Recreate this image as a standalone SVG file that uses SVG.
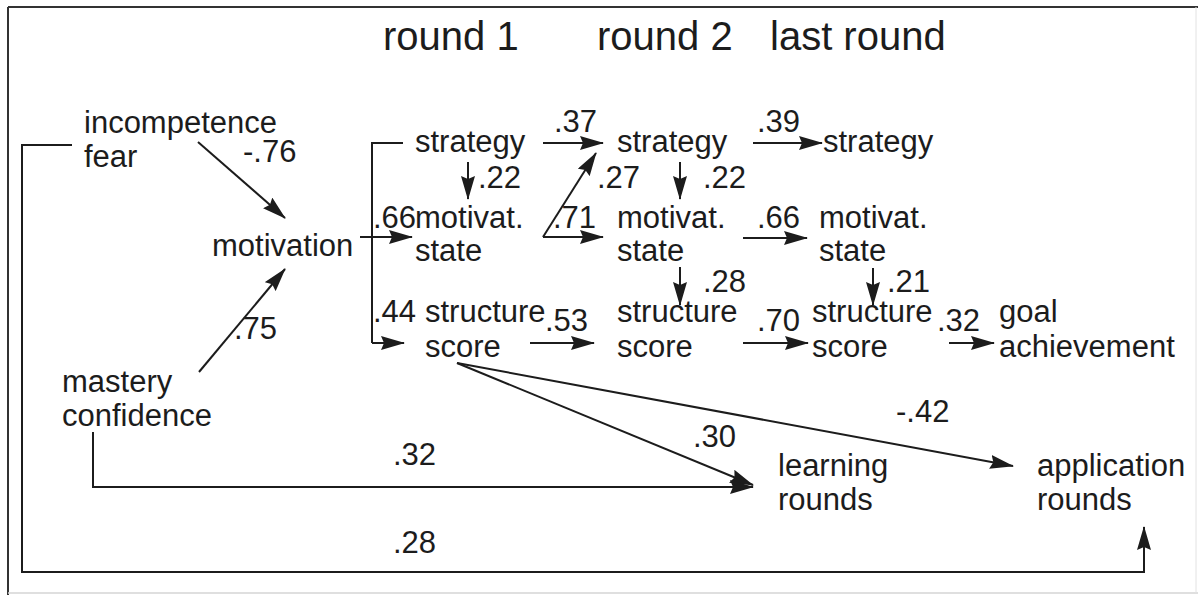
<svg xmlns="http://www.w3.org/2000/svg" width="1198" height="595" viewBox="0 0 1198 595">
  <style>
    .t { font-family: "Liberation Sans", Arial, sans-serif; font-size: 31px; fill: #1c1c1c; }
    .h { font-family: "Liberation Sans", Arial, sans-serif; font-size: 40px; fill: #1c1c1c; }
    .c { fill: none; stroke: #1c1c1c; stroke-width: 2; }
    .a { fill: none; stroke: #1c1c1c; stroke-width: 2; marker-end: url(#head); }
  </style>
  <defs>
    <marker id="head" viewBox="0 0 24 14" refX="23" refY="7" markerWidth="24" markerHeight="14" markerUnits="userSpaceOnUse" orient="auto">
      <path d="M0,0 L24,7 L0,14 L3,7 z" fill="#1c1c1c"/>
    </marker>
  </defs>

  <rect width="1198" height="595" fill="#ffffff"/>

  <!-- frame -->
  <g id="frame">
    <line x1="8" y1="7" x2="1198" y2="7" stroke="#333" stroke-width="2"/>
    <line x1="8" y1="7" x2="8" y2="595" stroke="#333" stroke-width="2"/>
    <line x1="8" y1="593" x2="1198" y2="593" stroke="#d4d4d4" stroke-width="1.5"/>
    <line x1="1196" y1="7" x2="1196" y2="593" stroke="#e2e2e2" stroke-width="1"/>
  </g>

  <!-- column headings -->
  <g id="headings">
    <text class="h" x="383" y="50">round 1</text>
    <text class="h" x="597" y="50">round 2</text>
    <text class="h" x="770" y="50">last round</text>
  </g>

  <!-- connectors -->
  <g id="connectors">
    <path class="a" d="M198,142 L285,218"/>
    <path class="a" d="M199,372 L285,269"/>
    <path class="c" d="M403,143 L372,143 L372,343"/>
    <path class="a" d="M372,343 L404,343"/>
    <path class="a" d="M360,237 L412,237"/>
    <path class="a" d="M468,162 L468,199"/>
    <path class="a" d="M543,143 L603,143"/>
    <path class="a" d="M543,237 L596,153"/>
    <path class="a" d="M543,237 L603,237"/>
    <path class="a" d="M530,343 L594,343"/>
    <path class="a" d="M680,162 L680,199"/>
    <path class="a" d="M680,267 L680,305"/>
    <path class="a" d="M753,143 L822,143"/>
    <path class="a" d="M743,238 L807,238"/>
    <path class="a" d="M743,343 L808,343"/>
    <path class="a" d="M873,268 L873,305"/>
    <path class="a" d="M949,343 L994,343"/>
    <path class="a" d="M457,363 L753,485"/>
    <path class="a" d="M457,363 L1013,466"/>
    <path class="a" d="M93,432 L93,487 L753,487"/>
    <path class="a" d="M72,145 L22,145 L22,572 L1144,572 L1144,527"/>
  </g>

  <!-- path coefficients -->
  <g id="weights">
    <text class="t" x="243" y="162">-.76</text>
    <text class="t" x="234" y="339">.75</text>
    <text class="t" x="373" y="228">.66</text>
    <text class="t" x="373" y="322">.44</text>
    <text class="t" x="478" y="188">.22</text>
    <text class="t" x="554" y="132">.37</text>
    <text class="t" x="553" y="228">.71</text>
    <text class="t" x="597" y="188">.27</text>
    <text class="t" x="545" y="331">.53</text>
    <text class="t" x="703" y="188">.22</text>
    <text class="t" x="703" y="292">.28</text>
    <text class="t" x="757" y="132">.39</text>
    <text class="t" x="757" y="228">.66</text>
    <text class="t" x="757" y="331">.70</text>
    <text class="t" x="887" y="292">.21</text>
    <text class="t" x="937" y="331">.32</text>
    <text class="t" x="693" y="447">.30</text>
    <text class="t" x="896" y="422">-.42</text>
    <text class="t" x="393" y="465">.32</text>
    <text class="t" x="393" y="553">.28</text>
  </g>

  <!-- nodes -->
  <g id="incompetence-fear">
    <text class="t" x="84" y="133">incompetence</text>
    <text class="t" x="84" y="167">fear</text>
  </g>
  <g id="mastery-confidence">
    <text class="t" x="62" y="392">mastery</text>
    <text class="t" x="62" y="426">confidence</text>
  </g>
  <g id="motivation">
    <text class="t" x="212" y="256">motivation</text>
  </g>
  <g id="strategy-1">
    <text class="t" x="415" y="152">strategy</text>
  </g>
  <g id="motivat-state-1">
    <text class="t" x="415" y="228">motivat.</text>
    <text class="t" x="415" y="261">state</text>
  </g>
  <g id="structure-score-1">
    <text class="t" x="425" y="322">structure</text>
    <text class="t" x="425" y="357">score</text>
  </g>
  <g id="strategy-2">
    <text class="t" x="617" y="152">strategy</text>
  </g>
  <g id="motivat-state-2">
    <text class="t" x="617" y="228">motivat.</text>
    <text class="t" x="617" y="261">state</text>
  </g>
  <g id="structure-score-2">
    <text class="t" x="617" y="322">structure</text>
    <text class="t" x="617" y="357">score</text>
  </g>
  <g id="strategy-last">
    <text class="t" x="823" y="152">strategy</text>
  </g>
  <g id="motivat-state-last">
    <text class="t" x="819" y="228">motivat.</text>
    <text class="t" x="819" y="261">state</text>
  </g>
  <g id="structure-score-last">
    <text class="t" x="812" y="322">structure</text>
    <text class="t" x="812" y="357">score</text>
  </g>
  <g id="goal-achievement">
    <text class="t" x="999" y="322">goal</text>
    <text class="t" x="999" y="357">achievement</text>
  </g>
  <g id="learning-rounds">
    <text class="t" x="778" y="476">learning</text>
    <text class="t" x="778" y="510">rounds</text>
  </g>
  <g id="application-rounds">
    <text class="t" x="1037" y="476">application</text>
    <text class="t" x="1037" y="510">rounds</text>
  </g>
</svg>
